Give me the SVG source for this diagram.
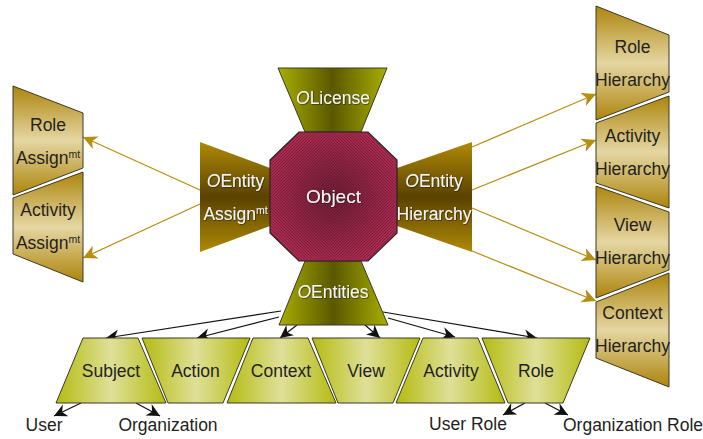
<svg xmlns="http://www.w3.org/2000/svg" width="703" height="439" viewBox="0 0 703 439">
<style>
text{font-family:"Liberation Sans",Arial,sans-serif;font-size:17.500px;text-anchor:middle}
.d{fill:#231f20}
.w{fill:#f4f4f4;filter:url(#sh)}
.sm{font-size:10.500px}
.i{font-style:italic}
.n{stroke:#3a3a2a;stroke-width:1}
.tan{fill:url(#tan)}
.lime{fill:url(#lime)}
.gold{stroke:#b58f10;stroke-width:1.200;fill:none;marker-end:url(#ag)}
.blk{stroke:#111;stroke-width:1.200;fill:none;marker-end:url(#ab)}
</style>
<defs>
<linearGradient id="tan" x1="0" y1="0" x2="0" y2="1"><stop offset="0" stop-color="#ad850c"/><stop offset=".5" stop-color="#e5d6a2"/><stop offset="1" stop-color="#ad850c"/></linearGradient>
<linearGradient id="lime" x1="0" y1="0" x2="1" y2="0"><stop offset="0" stop-color="#b4bb10"/><stop offset=".5" stop-color="#dfe098"/><stop offset="1" stop-color="#b4bb10"/></linearGradient>
<linearGradient id="olive" x1="0" y1="0" x2="1" y2="0"><stop offset="0" stop-color="#a9ae00"/><stop offset=".5" stop-color="#5a5800"/><stop offset="1" stop-color="#a9ae00"/></linearGradient>
<linearGradient id="brown" x1="0" y1="0" x2="0" y2="1"><stop offset="0" stop-color="#b08a06"/><stop offset=".5" stop-color="#5a4200"/><stop offset="1" stop-color="#b08a06"/></linearGradient>
<pattern id="p1" width="3" height="3" patternUnits="userSpaceOnUse"><rect width="3" height="3" fill="#b02a50"/><path d="M-1 1L1 -1M0 3L3 0M2 4L4 2" stroke="#6a2038" stroke-width=".7"/></pattern>
<pattern id="p2" width="3" height="3" patternUnits="userSpaceOnUse"><rect width="3" height="3" fill="#b02a50"/><path d="M-1 2L1 4M0 0L3 3M2 -1L4 1" stroke="#6a2038" stroke-width=".7"/></pattern>
<radialGradient id="dk" gradientUnits="userSpaceOnUse" cx="333.500" cy="196.500" r="70"><stop offset="0" stop-color="#3a1020" stop-opacity=".55"/><stop offset="1" stop-color="#3a1020" stop-opacity="0"/></radialGradient>
<clipPath id="oc"><polygon points="299,132 368,132 397,160 397,233 368,261 299,261 270,233 270,160"/></clipPath>
<marker id="ag" markerUnits="userSpaceOnUse" markerWidth="15" markerHeight="15" refX="14" refY="7" orient="auto"><path d="M0 0L14 7L0 14L4 7Z" fill="#b58f10"/></marker>
<marker id="ab" markerUnits="userSpaceOnUse" markerWidth="15" markerHeight="15" refX="13" refY="6.500" orient="auto"><path d="M0 0L13 6.500L0 13L4 6.500Z" fill="#111"/></marker>
<filter id="sh" x="-10%" y="-20%" width="120%" height="140%"><feDropShadow dx="0.600" dy="0.600" stdDeviation="0.300" flood-color="#111" flood-opacity=".8"/></filter>
</defs>
<g id="connectors">
<path class="gold" d="M200 190L83 137"/>
<path class="gold" d="M200 204L83 258"/>
<path class="gold" d="M472 147L596 94"/>
<path class="gold" d="M472 190L596 140"/>
<path class="gold" d="M472 208L596 260"/>
<path class="gold" d="M472 251L596 301"/>
<path class="blk" d="M281 311L106 338"/>
<path class="blk" d="M279 317L197 338"/>
<path class="blk" d="M297 325L280 338"/>
<path class="blk" d="M365 325L380 338"/>
<path class="blk" d="M388 318L455 337"/>
<path class="blk" d="M383 312L537 338"/>
<path class="blk" d="M81 403L54 416"/>
<path class="blk" d="M136 403L160 416"/>
<path class="blk" d="M525 403L503 415"/>
<path class="blk" d="M545 403L568 415"/>
</g>
<g id="olicense"><polygon class="n" fill="url(#olive)" points="278,68 387,68 361,132 305,132"/><text class="w" x="333" y="104"><tspan class="i">O</tspan>License</text></g>
<g id="oentities"><polygon class="n" fill="url(#olive)" points="305,261 361,261 388,325 279,325"/><text class="w" x="333" y="298"><tspan class="i">O</tspan>Entities</text></g>
<g id="oentity-assign"><polygon fill="url(#brown)" points="200,142 270,168 270,226 200,252"/><text class="w" x="235.500" y="187"><tspan class="i">O</tspan>Entity</text><text class="w" x="235.500" y="220">Assign<tspan class="sm" dy="-6">mt</tspan></text></g>
<g id="oentity-hierarchy"><polygon fill="url(#brown)" points="472,142 397,168 397,226 472,252"/><text class="w" x="434" y="187"><tspan class="i">O</tspan>Entity</text><text class="w" x="434" y="220">Hierarchy</text></g>
<g id="object"><g clip-path="url(#oc)"><rect x="270" y="132" width="64" height="65" fill="url(#p1)"/><rect x="334" y="197" width="63" height="64" fill="url(#p1)"/><rect x="334" y="132" width="63" height="65" fill="url(#p2)"/><rect x="270" y="197" width="64" height="64" fill="url(#p2)"/><rect x="270" y="132" width="127" height="129" fill="url(#dk)"/></g><polygon fill="none" stroke="#2a2226" stroke-width="1.200" points="299,132 368,132 397,160 397,233 368,261 299,261 270,233 270,160"/><text class="w" x="333.500" y="203" style="font-size:19px">Object</text></g>
<g id="role-assign"><polygon class="n tan" points="13,86 83,113 83,168 13,195"/><text class="d" x="48" y="131">Role</text><text class="d" x="48" y="164">Assign<tspan class="sm" dy="-6">mt</tspan></text></g>
<g id="activity-assign"><polygon class="n tan" points="13,198 83,172 83,282 13,254"/><text class="d" x="48" y="216">Activity</text><text class="d" x="48" y="249">Assign<tspan class="sm" dy="-6">mt</tspan></text></g>
<g id="role-hierarchy"><polygon class="n tan" points="596,6 669,35 669,92 596,120"/><text class="d" x="632.500" y="53">Role</text><text class="d" x="632.500" y="86">Hierarchy</text></g>
<g id="activity-hierarchy"><polygon class="n tan" points="596,123 669,96 669,208 596,183"/><text class="d" x="632.500" y="142">Activity</text><text class="d" x="632.500" y="175">Hierarchy</text></g>
<g id="view-hierarchy"><polygon class="n tan" points="596,186 669,212 669,270 596,298"/><text class="d" x="632.500" y="231">View</text><text class="d" x="632.500" y="264">Hierarchy</text></g>
<g id="context-hierarchy"><polygon class="n tan" points="596,302 669,273 669,387 596,358"/><text class="d" x="632.500" y="319">Context</text><text class="d" x="632.500" y="352">Hierarchy</text></g>
<g id="subject"><polygon class="n lime" points="83,338 138,338 166,403 56,403"/><text class="d" x="111" y="377">Subject</text></g>
<g id="action"><polygon class="n lime" points="142,338 250,338 223,403 168,403"/><text class="d" x="195.500" y="377">Action</text></g>
<g id="context"><polygon class="n lime" points="253,338 308,338 336,403 227,403"/><text class="d" x="281" y="377">Context</text></g>
<g id="view"><polygon class="n lime" points="312,338 420,338 393,403 338,403"/><text class="d" x="366" y="377">View</text></g>
<g id="activity"><polygon class="n lime" points="423,338 478,338 505,403 396,403"/><text class="d" x="451" y="377">Activity</text></g>
<g id="role"><polygon class="n lime" points="482,338 590,338 563,403 508,403"/><text class="d" x="536" y="377">Role</text></g>
<g id="leaf-labels"><text class="d" x="44" y="431">User</text><text class="d" x="168" y="431">Organization</text><text class="d" x="468" y="430">User Role</text><text class="d" x="633" y="431">Organization Role</text></g>
</svg>
